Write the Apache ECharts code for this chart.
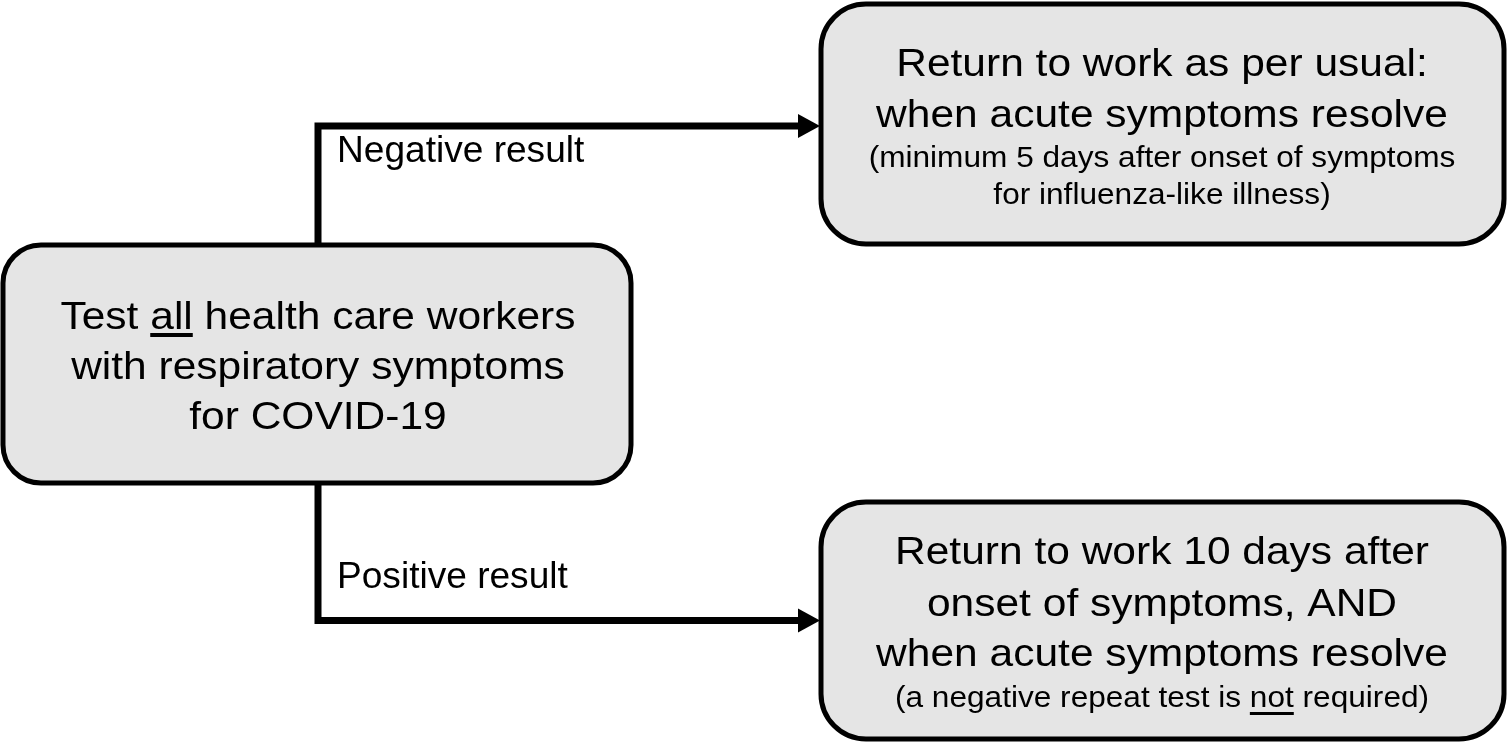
<!DOCTYPE html>
<html>
<head>
<meta charset="utf-8">
<script src="https://cdn.jsdelivr.net/npm/echarts@6/dist/echarts.min.js"></script>
<style>
html,body{margin:0;padding:0;background:#fff;}
#main{width:1509px;height:745px;}
</style>
</head>
<body>
<div id="main"></div>
<script>
// box texts
var startLines = ['Test all health care workers', 'with respiratory symptoms', 'for COVID-19'];
var negLines = ['Return to work as per usual:', 'when acute symptoms resolve'];
var negNote = ['(minimum 5 days after onset of symptoms', 'for influenza-like illness)'];
var posLines = ['Return to work 10 days after', 'onset of symptoms, AND', 'when acute symptoms resolve'];
var posNote = ['(a negative repeat test is not required)'];
var edgeLabels = ['Negative result', 'Positive result'];
// underlined words: [line text, word]
var underlined = [['Test all health care workers', 'all'], ['(a negative repeat test is not required)', 'not']];

var chart = echarts.init(document.getElementById('main'));
var FONT = '"Liberation Sans", Arial, sans-serif';
var ctx = document.createElement('canvas').getContext('2d');
function textW(s, size) {
    ctx.font = size + 'px ' + FONT;
    return ctx.measureText(s).width;
}

// baseline -> y for verticalAlign middle
function midY(base, size) { return base - 0.31 * size; }

// text lines, baselines from base0 every step px; sx = horizontal stretch
function lineEls(lines, cx, bases, size, sx) {
    var els = [];
    lines.forEach(function (s, i) {
        var base = bases[i];
        els.push({
            type: 'text', x: cx, y: midY(base, size), scaleX: sx,
            style: {text: s, fill: '#000', fontSize: size, fontFamily: FONT, align: 'center', verticalAlign: 'middle'}
        });
        underlined.forEach(function (u) {
            if (u[0] !== s) return;
            var w = textW(s, size) * sx;
            var pre = textW(s.slice(0, s.indexOf(u[1])), size) * sx;
            var uw = textW(u[1], size) * sx;
            var big = size > 35;
            els.push({
                type: 'rect',
                shape: {x: cx - w / 2 + pre, y: base + (big ? 3 : 4), width: uw, height: big ? 4 : 3},
                style: {fill: '#000'}
            });
        });
    });
    return els;
}

function box(x, y, w, h, r) {
    return {
        type: 'rect',
        shape: {x: x, y: y, width: w, height: h, r: r},
        style: {fill: '#e5e5e5', stroke: '#000', lineWidth: 5}
    };
}

function connector(pts, tipX, tipY) {
    return [{
        type: 'polyline',
        shape: {points: pts},
        style: {stroke: '#000', lineWidth: 7, fill: null, lineJoin: 'miter'}
    }, {
        type: 'polygon',
        shape: {points: [[tipX - 22, tipY - 12], [tipX, tipY], [tipX - 22, tipY + 12]]},
        style: {fill: '#000'}
    }];
}

var els = [];
els = els.concat(connector([[318, 247], [318, 126], [800, 126]], 820, 126));
els = els.concat(connector([[318, 482], [318, 620.5], [800, 620.5]], 820, 620.5));

els.push(box(3, 245, 628, 238, 38));
els.push(box(821, 4, 683, 240, 45));
els.push(box(821, 502, 683, 237, 45));

var BIG = 39, SMALL = 29, LAB = 36, SX = 1.09;
els = els.concat(lineEls(startLines, 318, [330, 380, 430], BIG, SX));
els = els.concat(lineEls(negLines, 1162, [77, 128], BIG, SX));
els = els.concat(lineEls(negNote, 1162, [168, 205], SMALL, SX));
els = els.concat(lineEls(posLines, 1162, [565, 617, 667], BIG, SX));
els = els.concat(lineEls(posNote, 1162, [708], SMALL, SX));

els.push({type: 'text', x: 337, y: midY(163, LAB), scaleX: 1.03,
    style: {text: edgeLabels[0], fill: '#000', fontSize: LAB, fontFamily: FONT, align: 'left', verticalAlign: 'middle'}});
els.push({type: 'text', x: 337, y: midY(589, LAB), scaleX: 1.03,
    style: {text: edgeLabels[1], fill: '#000', fontSize: LAB, fontFamily: FONT, align: 'left', verticalAlign: 'middle'}});

var option = {
    backgroundColor: '#fff',
    animation: false,
    graphic: {elements: els}
};
chart.setOption(option);
</script>
</body>
</html>
